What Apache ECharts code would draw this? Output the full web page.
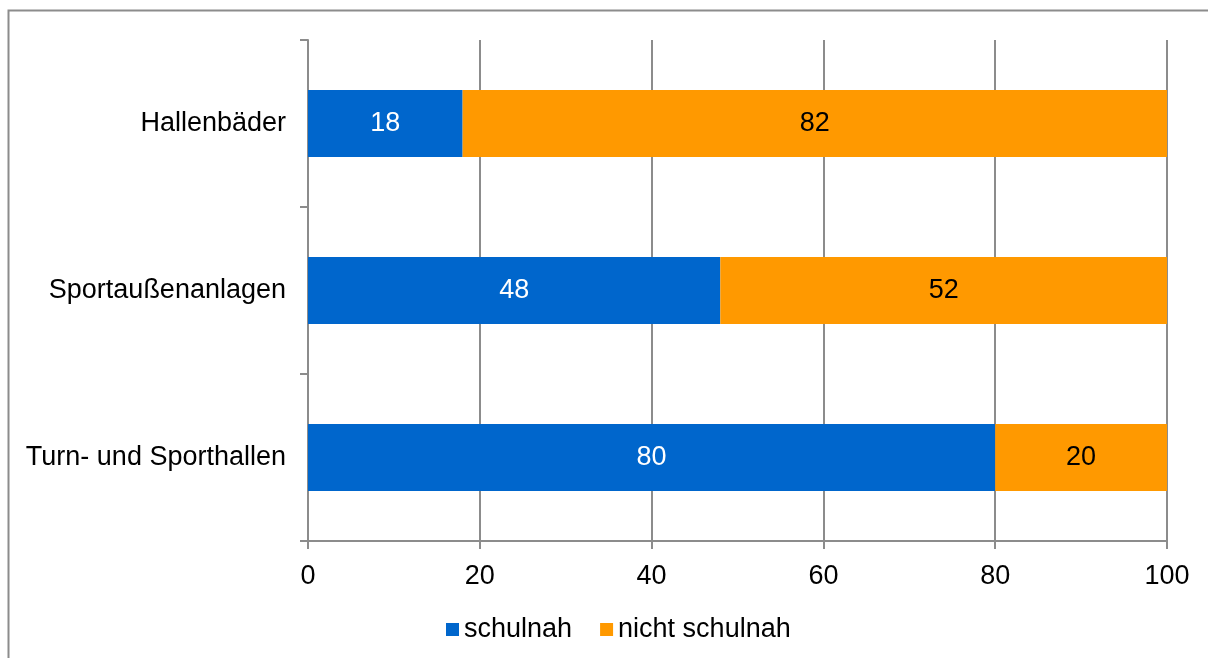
<!DOCTYPE html>
<html>
<head>
<meta charset="utf-8">
<script src="https://cdn.jsdelivr.net/npm/echarts@6/dist/echarts.min.js"></script>
<style>
  html, body { margin: 0; padding: 0; background: #fff; }
  #chart { width: 1208px; height: 658px; }
</style>
</head>
<body>
<div id="chart"></div>
<script>
const categories = ['Turn- und Sporthallen', 'Sportaußenanlagen', 'Hallenbäder']
const schulnah = [80, 48, 18]
const nichtSchulnah = [20, 52, 82]

const font = 'Liberation Sans, Arial, sans-serif'
const gray = '#8c8c8c'
const fs = 27

const chart = echarts.init(document.getElementById('chart'))

chart.setOption({
  animation: false,
  textStyle: { fontFamily: font },
  graphic: [{
    type: 'rect',
    shape: { x: 8.5, y: 10.5, width: 1300, height: 700 },
    style: { fill: 'none', stroke: gray, lineWidth: 2 },
    silent: true
  }],
  grid: { left: 308, right: 41, top: 40, bottom: 117 },
  legend: {
    bottom: 10,
    left: 441,
    itemWidth: 13,
    itemHeight: 13,
    itemGap: 28,
    icon: 'rect',
    textStyle: { fontSize: fs, color: '#000', fontFamily: font },
    data: ['schulnah', 'nicht schulnah']
  },
  xAxis: {
    type: 'value',
    min: 0,
    max: 100,
    interval: 20,
    axisLine: { show: true, lineStyle: { color: gray, width: 2 } },
    axisTick: { show: true, length: 8, lineStyle: { color: gray, width: 2 } },
    splitLine: { show: true, lineStyle: { color: gray, width: 2 } },
    axisLabel: { fontSize: fs, color: '#000', margin: 22, fontFamily: font }
  },
  yAxis: {
    type: 'category',
    data: categories,
    axisLine: { show: true, lineStyle: { color: gray, width: 2 } },
    axisTick: { show: true, length: 8, lineStyle: { color: gray, width: 2 } },
    axisLabel: { fontSize: fs, color: '#000', margin: 22, fontFamily: font }
  },
  series: [
    {
      name: 'schulnah',
      type: 'bar',
      stack: 'total',
      data: schulnah,
      barWidth: '40%',
      itemStyle: { color: '#0066CC' },
      label: { show: true, position: 'inside', color: '#fff', fontSize: fs, fontFamily: font }
    },
    {
      name: 'nicht schulnah',
      type: 'bar',
      stack: 'total',
      data: nichtSchulnah,
      barWidth: '40%',
      itemStyle: { color: '#FF9900' },
      label: { show: true, position: 'inside', color: '#000', fontSize: fs, fontFamily: font }
    }
  ]
})
</script>
</body>
</html>
